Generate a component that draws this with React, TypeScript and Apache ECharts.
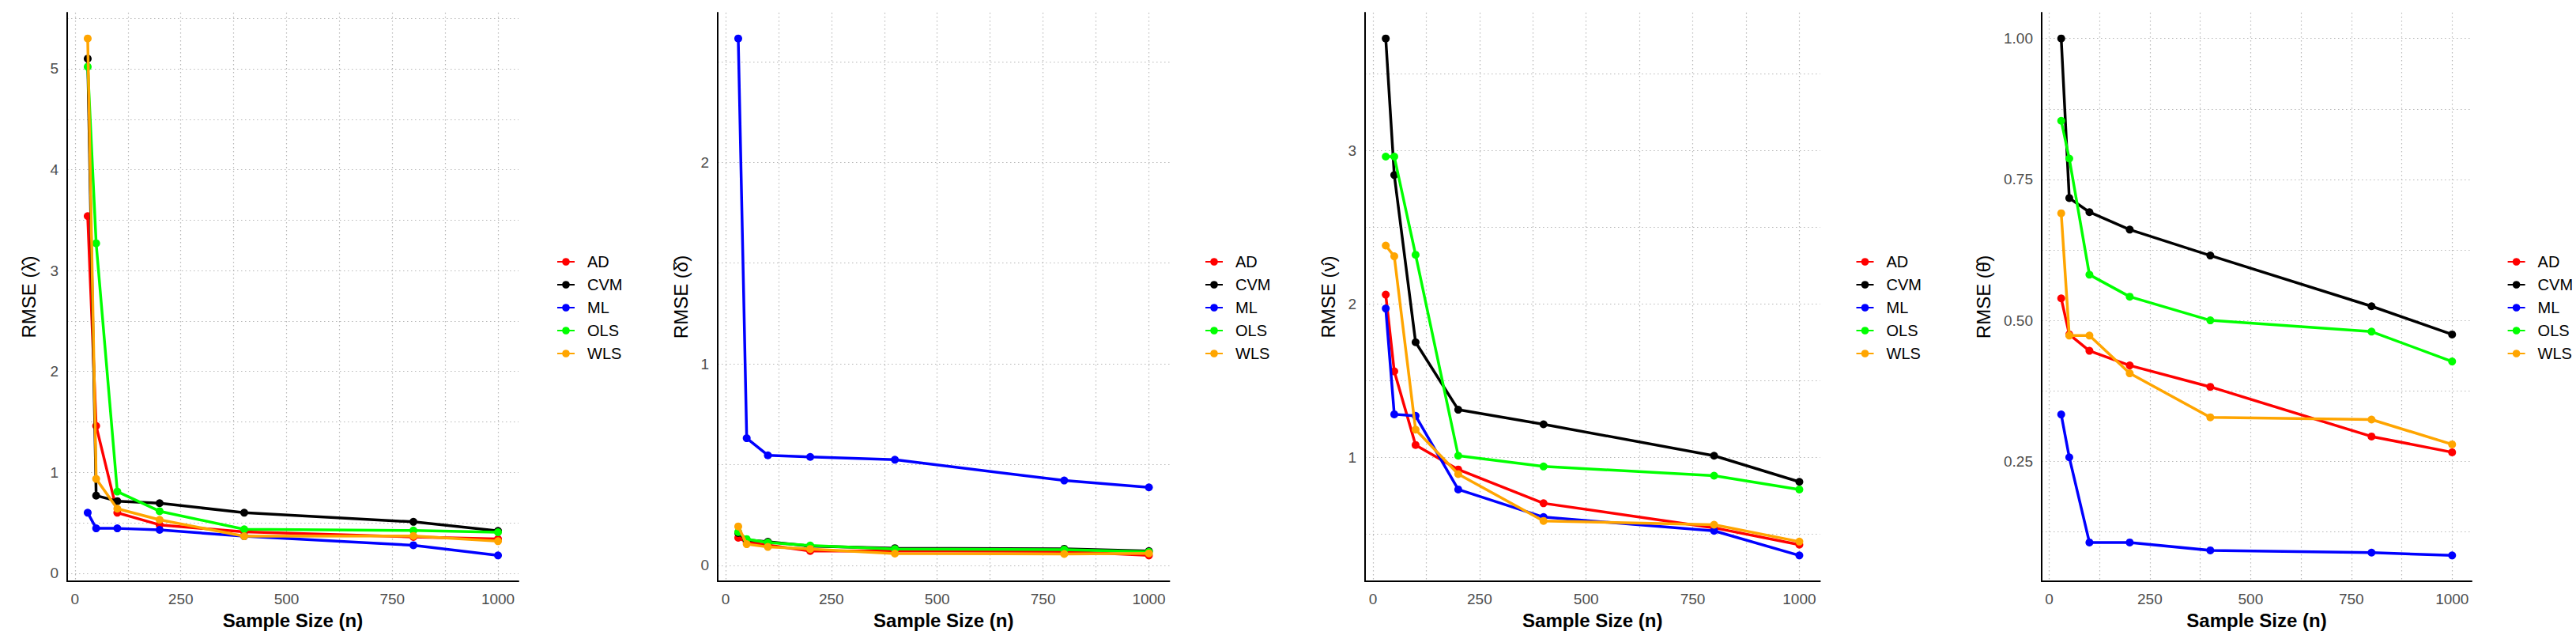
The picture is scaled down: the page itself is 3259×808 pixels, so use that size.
import React, { useEffect, useRef } from "react";
import * as echarts from "echarts";

const SAMPLE_SIZES = [30, 50, 100, 200, 400, 800, 1000];
const METHODS = ["AD", "CVM", "ML", "OLS", "WLS"];
const COLORS = ["#FF0000", "#000000", "#0000FF", "#00FF00", "#FFA500"];

// RMSE of lambda-hat
const LAMBDA_AD = [3.54, 1.46, 0.6, 0.48, 0.41, 0.36, 0.34];
const LAMBDA_CVM = [5.1, 0.77, 0.715, 0.695, 0.6, 0.51, 0.42];
const LAMBDA_ML = [0.6, 0.445, 0.445, 0.43, 0.367, 0.278, 0.177];
const LAMBDA_OLS = [5.02, 3.27, 0.81, 0.615, 0.436, 0.424, 0.407];
const LAMBDA_WLS = [5.3, 0.935, 0.64, 0.53, 0.367, 0.37, 0.318];

// RMSE of delta-hat
const DELTA_AD = [0.137, 0.115, 0.1, 0.071, 0.072, 0.069, 0.049];
const DELTA_CVM = [0.16, 0.126, 0.117, 0.095, 0.085, 0.082, 0.071];
const DELTA_ML = [2.615, 0.631, 0.546, 0.538, 0.524, 0.421, 0.387];
const DELTA_OLS = [0.165, 0.13, 0.113, 0.098, 0.081, 0.078, 0.067];
const DELTA_WLS = [0.193, 0.105, 0.091, 0.081, 0.058, 0.056, 0.059];

// RMSE of nu-hat
const NU_AD = [2.06, 1.56, 1.08, 0.92, 0.7, 0.54, 0.43];
const NU_CVM = [3.73, 2.84, 1.75, 1.31, 1.215, 1.01, 0.84];
const NU_ML = [1.97, 1.28, 1.27, 0.79, 0.61, 0.52, 0.36];
const NU_OLS = [2.96, 2.96, 2.32, 1.01, 0.94, 0.88, 0.79];
const NU_WLS = [2.38, 2.31, 1.18, 0.89, 0.585, 0.56, 0.45];

// RMSE of theta-hat
const THETA_AD = [0.539, 0.475, 0.446, 0.42, 0.382, 0.294, 0.266];
const THETA_CVM = [1.0, 0.717, 0.692, 0.661, 0.615, 0.525, 0.475];
const THETA_ML = [0.333, 0.257, 0.106, 0.106, 0.092, 0.088, 0.083];
const THETA_OLS = [0.854, 0.787, 0.581, 0.542, 0.5, 0.48, 0.427];
const THETA_WLS = [0.69, 0.473, 0.473, 0.406, 0.328, 0.324, 0.28];

const X_TICKS = [0, 250, 500, 750, 1000];
const X_GRID = [0, 125, 250, 375, 500, 625, 750, 875, 1000];

const LAMBDA_TICKS = [0, 1, 2, 3, 4, 5];
const LAMBDA_GRID = [0, 0.5, 1, 1.5, 2, 2.5, 3, 3.5, 4, 4.5, 5, 5.5];
const DELTA_TICKS = [0, 1, 2];
const DELTA_GRID = [0, 0.5, 1, 1.5, 2, 2.5];
const NU_TICKS = [1, 2, 3];
const NU_GRID = [0.5, 1, 1.5, 2, 2.5, 3, 3.5];
const THETA_TICKS = [0.25, 0.5, 0.75, 1.0];
const THETA_GRID = [0.125, 0.25, 0.375, 0.5, 0.625, 0.75, 0.875, 1.0];

const FONT = "'Liberation Sans', Arial, sans-serif";

const PANELS = [
  {
    title: "RMSE (\u03BB\u0302)",
    series: [LAMBDA_AD, LAMBDA_CVM, LAMBDA_ML, LAMBDA_OLS, LAMBDA_WLS],
    ticks: LAMBDA_TICKS,
    grid: LAMBDA_GRID,
    decimals: 0,
    left: 85,
    right: 656,
    nameGap: 37,
    legendLeft: 699,
  },
  {
    title: "RMSE (\u03B4\u0302)",
    series: [DELTA_AD, DELTA_CVM, DELTA_ML, DELTA_OLS, DELTA_WLS],
    ticks: DELTA_TICKS,
    grid: DELTA_GRID,
    decimals: 0,
    left: 908,
    right: 1479.5,
    nameGap: 35,
    legendLeft: 1519,
  },
  {
    title: "RMSE (\u03BD\u0302)",
    series: [NU_AD, NU_CVM, NU_ML, NU_OLS, NU_WLS],
    ticks: NU_TICKS,
    grid: NU_GRID,
    decimals: 0,
    left: 1727,
    right: 2302.6,
    nameGap: 35,
    legendLeft: 2342.5,
  },
  {
    title: "RMSE (\u03B8\u0302)",
    series: [THETA_AD, THETA_CVM, THETA_ML, THETA_OLS, THETA_WLS],
    ticks: THETA_TICKS,
    grid: THETA_GRID,
    decimals: 2,
    left: 2583,
    right: 3127,
    nameGap: 62,
    legendLeft: 3166.6,
  },
];

const GRID_TOP = 16;
const GRID_BOTTOM = 735;

function expand(values: number[]) {
  const lo = Math.min(...values);
  const hi = Math.max(...values);
  const pad = (hi - lo) * 0.05;
  return [lo - pad, hi + pad];
}

export default function App() {
  const ref = useRef<HTMLDivElement>(null);

  useEffect(() => {
    document.body.style.margin = "0";
    if (!ref.current) return;
    const chart = echarts.init(ref.current, undefined, { renderer: "svg" });

    const [xMin, xMax] = expand(SAMPLE_SIZES);
    const gridLine = {
      show: true,
      lineStyle: { color: "#b8b8b8", width: 1.2, type: [1.5, 3.5] as any },
    };
    const axisLineStyle = {
      show: true,
      onZero: false,
      lineStyle: { color: "#000000", width: 2 },
    };

    const grids: any[] = [];
    const xAxes: any[] = [];
    const yAxes: any[] = [];
    const legends: any[] = [];
    const series: any[] = [];

    PANELS.forEach((p, pi) => {
      grids.push({
        left: p.left,
        width: p.right - p.left,
        top: GRID_TOP,
        height: GRID_BOTTOM - GRID_TOP,
        containLabel: false,
      });
      xAxes.push({
        type: "value",
        gridIndex: pi,
        min: xMin,
        max: xMax,
        name: "Sample Size (n)",
        nameLocation: "middle",
        nameGap: 37,
        nameTextStyle: { fontFamily: FONT, fontSize: 24, fontWeight: "bold", color: "#000" },
        axisLine: axisLineStyle,
        axisTick: { show: false, customValues: X_GRID },
        axisLabel: {
          customValues: X_TICKS,
          margin: 13,
          fontFamily: FONT,
          fontSize: 19,
          color: "#4d4d4d",
          formatter: (v: number) => String(Math.round(v)),
        },
        splitLine: gridLine,
      });
      const allVals = ([] as number[]).concat(...p.series);
      const [yMin, yMax] = expand(allVals);
      yAxes.push({
        type: "value",
        gridIndex: pi,
        min: yMin,
        max: yMax,
        name: p.title,
        nameLocation: "middle",
        nameGap: p.nameGap,
        nameTextStyle: { fontFamily: FONT, fontSize: 24, color: "#000" },
        axisLine: axisLineStyle,
        axisTick: { show: false, customValues: p.grid },
        axisLabel: {
          customValues: p.ticks,
          margin: 11,
          fontFamily: FONT,
          fontSize: 19,
          color: "#4d4d4d",
          formatter: (v: number) => v.toFixed(p.decimals),
        },
        splitLine: gridLine,
      });
      legends.push({
        orient: "vertical",
        left: p.legendLeft,
        top: 316,
        itemWidth: 22,
        itemHeight: 12,
        itemGap: 9,
        data: METHODS,
        textStyle: {
          fontFamily: FONT,
          fontSize: 20,
          color: "#000",
          padding: [0, 0, 0, 11],
        },
      });
      METHODS.forEach((m, mi) => {
        series.push({
          type: "line",
          name: m,
          xAxisIndex: pi,
          yAxisIndex: pi,
          data: SAMPLE_SIZES.map((n, i) => [n, p.series[mi][i]]),
          symbol: "circle",
          symbolSize: 10,
          showSymbol: true,
          lineStyle: { color: COLORS[mi], width: 3.5 },
          itemStyle: { color: COLORS[mi] },
          color: COLORS[mi],
          z: 2 + mi,
        });
      });
    });

    chart.setOption({
      animation: false,
      backgroundColor: "#ffffff",
      grid: grids,
      xAxis: xAxes,
      yAxis: yAxes,
      legend: legends,
      series,
    });

    return () => chart.dispose();
  }, []);

  return <div ref={ref} style={{ width: 3259, height: 808 }} />;
}
